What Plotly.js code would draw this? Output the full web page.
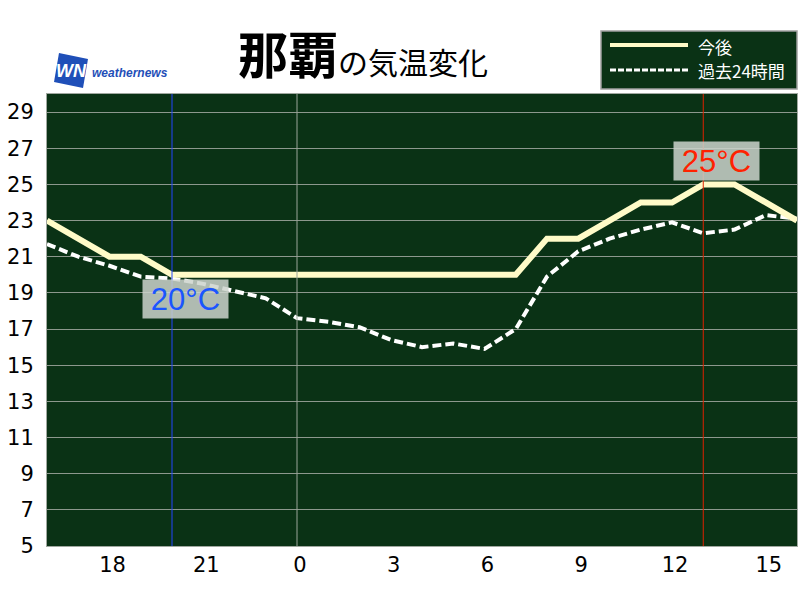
<!DOCTYPE html>
<html>
<head>
<meta charset="utf-8">
<script src="https://cdn.plot.ly/plotly-3.0.1.min.js"></script>
<style>html,body{margin:0;padding:0;background:#fff;}#chart{width:800px;height:600px;}</style>
</head>
<body>
<div id="chart"></div>
<script>
// ---- data ----
const times = [
  '2024-04-10 16:00','2024-04-10 17:00','2024-04-10 18:00','2024-04-10 19:00','2024-04-10 20:00',
  '2024-04-10 21:00','2024-04-10 22:00','2024-04-10 23:00','2024-04-11 00:00','2024-04-11 01:00',
  '2024-04-11 02:00','2024-04-11 03:00','2024-04-11 04:00','2024-04-11 05:00','2024-04-11 06:00',
  '2024-04-11 07:00','2024-04-11 08:00','2024-04-11 09:00','2024-04-11 10:00','2024-04-11 11:00',
  '2024-04-11 12:00','2024-04-11 13:00','2024-04-11 14:00','2024-04-11 15:00','2024-04-11 16:00'
];
const forecast = [23,22,21,21,20,20,20,20,20,20,20,20,20,20,20,20,22,22,23,24,24,25,25,24,23];
const past24h  = [21.7,21.0,20.5,19.9,19.8,19.5,19.1,18.7,17.6,17.4,17.1,16.4,16.0,16.2,15.9,17.0,19.9,21.3,22.0,22.5,22.9,22.3,22.5,23.3,23.1];
const yTicks = [5,7,9,11,13,15,17,19,21,23,25,27,29];
const seriesNames = ['今後','過去24時間'];
const titleCity = '那覇';
const titleRest = 'の気温変化';
const dayBoundary = '2024-04-11 00:00';

// ---- layout helpers ----
const ML = 47, MR = 3, MT = 94, MB = 54, W = 800, H = 600;
const PW = W - ML - MR, PH = H - MT - MB;
const xp = px => (px - ML) / PW;
const yp = py => (H - MB - py) / PH;

const minV = Math.min(...forecast), maxV = Math.max(...forecast);
const minT = times[forecast.indexOf(minV)], maxT = times[forecast.indexOf(maxV)];

const FONT = '"Noto Sans CJK JP", "Noto Sans", sans-serif';
const NUMFONT = '"DejaVu Sans", sans-serif';
const LBLFONT = '"Liberation Sans", Arial, sans-serif';
const BG = '#0a3215';

const traces = [
  {x: times, y: past24h, name: seriesNames[1], mode: 'lines',
   line: {color: '#ffffff', width: 4, dash: '9px,4px'}},
  {x: times, y: forecast, name: seriesNames[0], mode: 'lines',
   line: {color: '#fffbc8', width: 6}}
];

const shapes = [
  {type:'line', xref:'x', yref:'paper', x0: dayBoundary, x1: dayBoundary, y0:0, y1:1, line:{color:'#9aa59a', width:1}},
  {type:'line', xref:'x', yref:'paper', x0: minT, x1: minT, y0:0, y1:1, line:{color:'#2244ff', width:1}},
  {type:'line', xref:'x', yref:'paper', x0: maxT, x1: maxT, y0:0, y1:1, line:{color:'#dd2200', width:1}},
  // legend box
  {type:'rect', xref:'paper', yref:'paper', x0: xp(601), x1: xp(797), y0: yp(89), y1: yp(31),
   fillcolor: BG, line:{color:'#a0a0a0', width:1.5}, layer:'above'},
  {type:'line', xref:'paper', yref:'paper', x0: xp(610), x1: xp(688), y0: yp(45), y1: yp(45),
   line:{color:'#fffbc8', width:4}, layer:'above'},
  {type:'line', xref:'paper', yref:'paper', x0: xp(610), x1: xp(688), y0: yp(70), y1: yp(70),
   line:{color:'#ffffff', width:3, dash:'6px,2px'}, layer:'above'},
  // logo box
  {type:'path', xref:'paper', yref:'paper', layer:'above',
   path: `M ${xp(59)} ${yp(53)} L ${xp(88)} ${yp(59)} L ${xp(83)} ${yp(88)} L ${xp(54)} ${yp(82)} Z`,
   fillcolor:'#1f4fb8', line:{width:0}}
];

const annotations = [
  {xref:'paper', yref:'paper', x: xp(363), y: yp(52), xanchor:'center', yanchor:'middle', showarrow:false,
   text: `<b>${titleCity}</b><span style="font-size:30px">${titleRest}</span>`,
   font:{family: FONT, size: 50, color:'#000'}},
  {xref:'paper', yref:'paper', x: xp(696), y: yp(46), xanchor:'left', yanchor:'middle', showarrow:false,
   text: seriesNames[0], font:{family: FONT, size: 17, color:'#fff'}},
  {xref:'paper', yref:'paper', x: xp(696), y: yp(71), xanchor:'left', yanchor:'middle', showarrow:false,
   text: seriesNames[1], font:{family: FONT, size: 17, color:'#fff'}},
  {xref:'paper', yref:'paper', x: xp(71), y: yp(71), xanchor:'center', yanchor:'middle', showarrow:false,
   text:'<b><i>WN</i></b>', font:{family: LBLFONT, size: 18, color:'#fff'}},
  {xref:'paper', yref:'paper', x: xp(90), y: yp(73), xanchor:'left', yanchor:'middle', showarrow:false,
   text:'<b><i>weathernews</i></b>', font:{family: LBLFONT, size: 12, color:'#1f4fb8'}},
  {x: minT, y: minV, xref:'x', yref:'y', showarrow:false, yshift:-24, xshift:13, xanchor:'center', yanchor:'middle',
   text: minV + '°C', font:{family: LBLFONT, size: 31, color:'#1a55ff'},
   width: 85, height: 38, bgcolor:'rgba(205,212,205,0.85)', borderpad:0},
  {x: maxT, y: maxV, xref:'x', yref:'y', showarrow:false, yshift:23, xshift:13, xanchor:'center', yanchor:'middle',
   text: maxV + '°C', font:{family: LBLFONT, size: 31, color:'#ff2200'},
   width: 85, height: 38, bgcolor:'rgba(205,212,205,0.85)', borderpad:0}
];

const layout = {
  width: W, height: H,
  margin: {l: ML, r: MR, t: MT, b: MB, pad: 0},
  paper_bgcolor: '#ffffff',
  plot_bgcolor: BG,
  showlegend: false,
  xaxis: {
    type: 'date', range: [times[0], times[times.length-1]],
    tick0: '2024-04-10 00:00', dtick: 3*3600000, tickformat: '%-H',
    showgrid: false, zeroline: false, showline: true, mirror: true, linecolor: '#a0a8a0', linewidth: 1,
    ticks: '', ticklabelshift: 3, tickfont: {family: NUMFONT, size: 21, color: '#000'}
  },
  yaxis: {
    range: [5, 30], tickvals: yTicks, ticktext: yTicks.map(String),
    showgrid: true, gridcolor: '#8d988d', gridwidth: 1, zeroline: false,
    showline: true, mirror: true, linecolor: '#a0a8a0', linewidth: 1,
    ticks: '', ticklabelstandoff: 8, tickfont: {family: NUMFONT, size: 21, color: '#000'}
  },
  shapes: shapes,
  annotations: annotations
};

Plotly.newPlot('chart', traces, layout, {staticPlot: true, displayModeBar: false});
</script>
</body>
</html>
